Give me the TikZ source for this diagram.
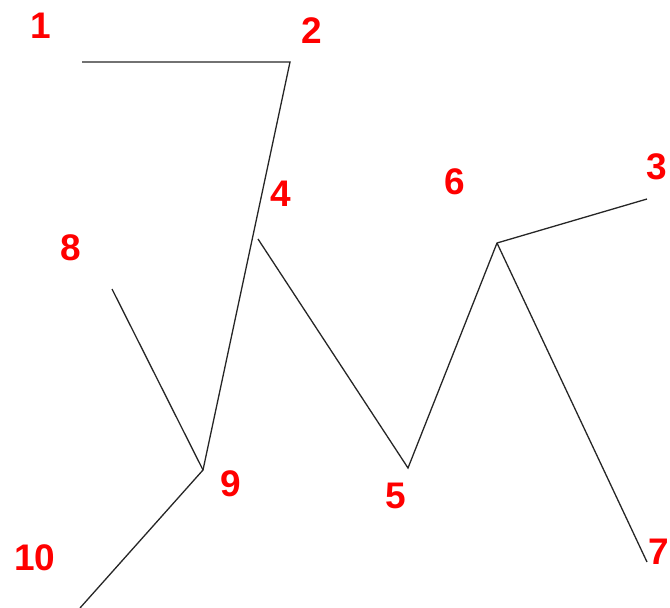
\documentclass[tikz,border=0pt]{standalone}
\usepackage{fontspec}
\setmainfont{Liberation Sans}
\usepackage{tikz}
\definecolor{LabelRed}{RGB}{255,0,0}
\tikzset{
	lbl/.style={text=LabelRed, font=\bfseries\fontsize{37}{40}\selectfont, inner sep=0pt},
	seg/.style={line width=1.3pt, black!85}
}

\begin{document}
\begin{tikzpicture}[x=1pt, y=-1pt]
	\useasboundingbox (0,0) rectangle (670,608);
	\coordinate (p1) at (82,62);
	\coordinate (p2) at (290,62);
	\coordinate (p3) at (647,199);
	\coordinate (p4) at (258,239);
	\coordinate (p5) at (408,468);
	\coordinate (p6) at (497,243);
	\coordinate (p7) at (647,562);
	\coordinate (p8) at (112,289);
	\coordinate (p9) at (203,470);
	\coordinate (p10) at (80,608);
	\draw[seg] (p1) -- (p2) -- (p9);
	\draw[seg] (p8) -- (p9) -- (p10);
	\draw[seg] (p4) -- (p5) -- (p6) -- (p3);
	\draw[seg] (p6) -- (p7);
	\node[lbl] (l1) at (41,26) {1};
	\node[lbl] (l2) at (312,31) {2};
	\node[lbl] (l3) at (657,167) {3};
	\node[lbl] (l4) at (281,194) {4};
	\node[lbl] (l5) at (396,496) {5};
	\node[lbl] (l6) at (455,182) {6};
	\node[lbl] (l7) at (659,552) {7};
	\node[lbl] (l8) at (71,248) {8};
	\node[lbl] (l9) at (231,484) {9};
	\node[lbl] (l10) at (35,558) {10};
\end{tikzpicture}
\end{document}
